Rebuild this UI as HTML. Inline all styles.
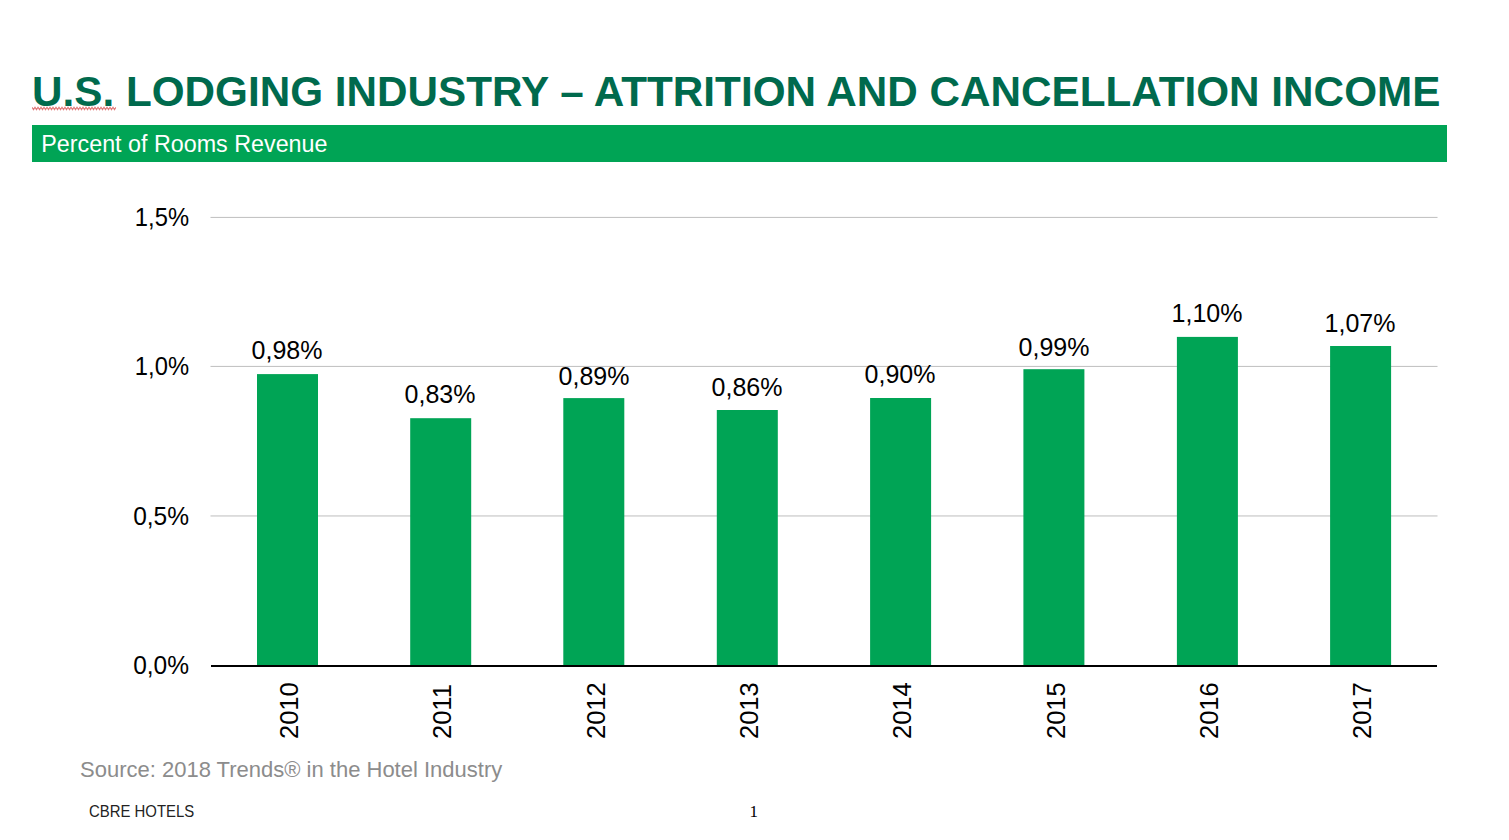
<!DOCTYPE html>
<html>
<head>
<meta charset="utf-8">
<style>
html,body{margin:0;padding:0;background:#fff;}
body{width:1509px;height:840px;position:relative;overflow:hidden;font-family:"Liberation Sans",sans-serif;}
.a{position:absolute;white-space:nowrap;line-height:1;}
#title{left:31.5px;top:69.5px;font-size:43px;transform-origin:0 0;transform:scaleX(0.9826);font-weight:bold;color:#006a4d;}
#band{left:32px;top:125px;width:1415px;height:37px;background:#00a455;}
#sub{left:41.3px;top:133.2px;font-size:23.3px;color:#fff;}
.yl{position:absolute;font-size:25px;color:#000;text-align:right;width:100px;line-height:1;transform-origin:100% 50%;}
.dl{position:absolute;font-size:25px;color:#000;text-align:center;width:120px;line-height:1;}
.xl{position:absolute;font-size:25.5px;color:#000;line-height:1;transform-origin:0 0;transform:rotate(-90deg);}
#src{left:80px;top:758.5px;font-size:22px;color:#8c8c8c;}
#foot{left:89px;top:803px;font-size:16.5px;color:#222;transform-origin:0 0;transform:scaleX(0.903);}
#pg{left:749.5px;top:803px;font-size:17px;color:#000;font-family:"Liberation Serif",serif;}
</style>
</head>
<body>
<div class="a" id="title">U.S. LODGING INDUSTRY – ATTRITION AND CANCELLATION INCOME</div>
<svg class="a" style="left:32px;top:106px" width="84" height="5" viewBox="0 0 84 5"><polyline fill="none" stroke="#e07878" stroke-width="1.1" points="0,1.2 1.5,3.6 3,1.2 4.5,3.6 6,1.2 7.5,3.6 9,1.2 10.5,3.6 12,1.2 13.5,3.6 15,1.2 16.5,3.6 18,1.2 19.5,3.6 21,1.2 22.5,3.6 24,1.2 25.5,3.6 27,1.2 28.5,3.6 30,1.2 31.5,3.6 33,1.2 34.5,3.6 36,1.2 37.5,3.6 39,1.2 40.5,3.6 42,1.2 43.5,3.6 45,1.2 46.5,3.6 48,1.2 49.5,3.6 51,1.2 52.5,3.6 54,1.2 55.5,3.6 57,1.2 58.5,3.6 60,1.2 61.5,3.6 63,1.2 64.5,3.6 66,1.2 67.5,3.6 69,1.2 70.5,3.6 72,1.2 73.5,3.6 75,1.2 76.5,3.6 78,1.2 79.5,3.6 81,1.2 82.5,3.6 84,1.2"/></svg>
<div class="a" id="band"></div>
<div class="a" id="sub">Percent of Rooms Revenue</div>


<svg style="position:absolute;left:0;top:0" width="1509" height="840" viewBox="0 0 1509 840">
<rect x="210.5" y="216.9" width="1227" height="1.1" fill="#c4c4c4"/>
<rect x="210.5" y="365.9" width="1227" height="1.1" fill="#c4c4c4"/>
<rect x="210.5" y="515.4" width="1227" height="1.1" fill="#c4c4c4"/>
<rect x="257.0" y="374.1" width="61" height="291.9" fill="#00a455"/>
<rect x="410.2" y="418.2" width="61" height="247.8" fill="#00a455"/>
<rect x="563.3" y="398.1" width="61" height="267.9" fill="#00a455"/>
<rect x="716.8" y="410.0" width="61" height="256.0" fill="#00a455"/>
<rect x="870.1" y="398.0" width="61" height="268.0" fill="#00a455"/>
<rect x="1023.4" y="369.2" width="61" height="296.8" fill="#00a455"/>
<rect x="1176.9" y="336.9" width="61" height="329.1" fill="#00a455"/>
<rect x="1330.1" y="346.0" width="61" height="320.0" fill="#00a455"/>
<rect x="211" y="665" width="1226" height="2" fill="#000"/>
</svg>
<div class="yl" style="left:88.5px;top:205px;transform:scaleX(0.95)">1,5%</div>
<div class="yl" style="left:88.5px;top:354px;transform:scaleX(0.95)">1,0%</div>
<div class="yl" style="left:88.5px;top:504px;transform:scaleX(0.98)">0,5%</div>
<div class="yl" style="left:88.5px;top:653px;transform:scaleX(0.98)">0,0%</div>



<div class="dl" style="left:227px;top:338px">0,98%</div>
<div class="dl" style="left:380px;top:382px">0,83%</div>
<div class="dl" style="left:534px;top:364px">0,89%</div>
<div class="dl" style="left:687px;top:375px">0,86%</div>
<div class="dl" style="left:840px;top:362px">0,90%</div>
<div class="dl" style="left:994px;top:335px">0,99%</div>
<div class="dl" style="left:1147px;top:301px">1,10%</div>
<div class="dl" style="left:1300px;top:311px">1,07%</div>

<div class="xl" style="left:276.7px;top:739px">2010</div>
<div class="xl" style="left:429.7px;top:739px">2011</div>
<div class="xl" style="left:583.7px;top:739px">2012</div>
<div class="xl" style="left:736.7px;top:739px">2013</div>
<div class="xl" style="left:889.7px;top:739px">2014</div>
<div class="xl" style="left:1043.7px;top:739px">2015</div>
<div class="xl" style="left:1196.7px;top:739px">2016</div>
<div class="xl" style="left:1349.7px;top:739px">2017</div>

<div class="a" id="src">Source: 2018 Trends® in the Hotel Industry</div>
<div class="a" id="foot">CBRE HOTELS</div>
<div class="a" id="pg">1</div>
</body>
</html>
